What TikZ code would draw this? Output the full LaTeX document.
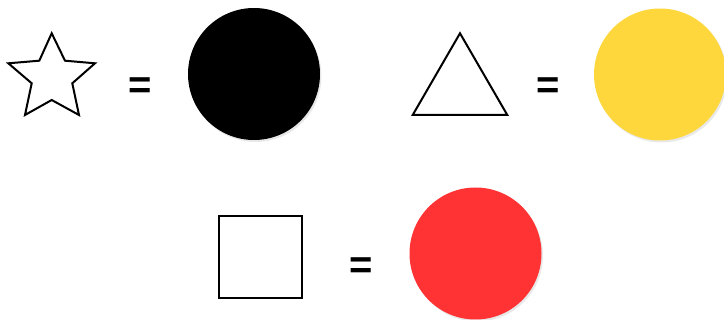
\documentclass[tikz,border=0pt]{standalone}
\usepackage{fontspec}
\setmainfont{Liberation Sans}
\usetikzlibrary{shadows}
\definecolor{cyellow}{HTML}{FED73D}
\definecolor{cred}{HTML}{FF3333}
\tikzset{
  outline/.style={draw=black, line width=2pt, line join=miter, fill=white},
  disc/.style={circle, minimum size=132pt, inner sep=0pt, draw=none,
    drop shadow={opacity=0.18, shadow xshift=1.5pt, shadow yshift=-2pt}},
  eq/.style={font=\fontsize{40}{40}\selectfont\bfseries, inner sep=0pt}
}
\begin{document}
\begin{tikzpicture}[x=1pt, y=-1pt]
\useasboundingbox (0,0) rectangle (724,320);
% star
\draw[outline] (51.7,33.3) -- (65,60.7) -- (95,63.3) -- (72.3,83.3) -- (79,115)
  -- (51.7,100) -- (25,115) -- (31.7,83.3) -- (8.3,63.3) -- (39.3,60.7) -- cycle;
\node[eq] (eq1) at (140.5,88) {=};
\node[disc, fill=black] (c1) at (254,74) {};
% triangle
\draw[outline] (460,33.3) -- (507.3,115) -- (412.7,115) -- cycle;
\node[eq] (eq2) at (548,88) {=};
\node[disc, fill=cyellow] (c2) at (660,74.5) {};
% square
\draw[outline] (219,215.7) rectangle (301.7,298.3);
\node[eq] (eq3) at (361,268.5) {=};
\node[disc, fill=cred] (c3) at (475.5,253.5) {};
\end{tikzpicture}
\end{document}
